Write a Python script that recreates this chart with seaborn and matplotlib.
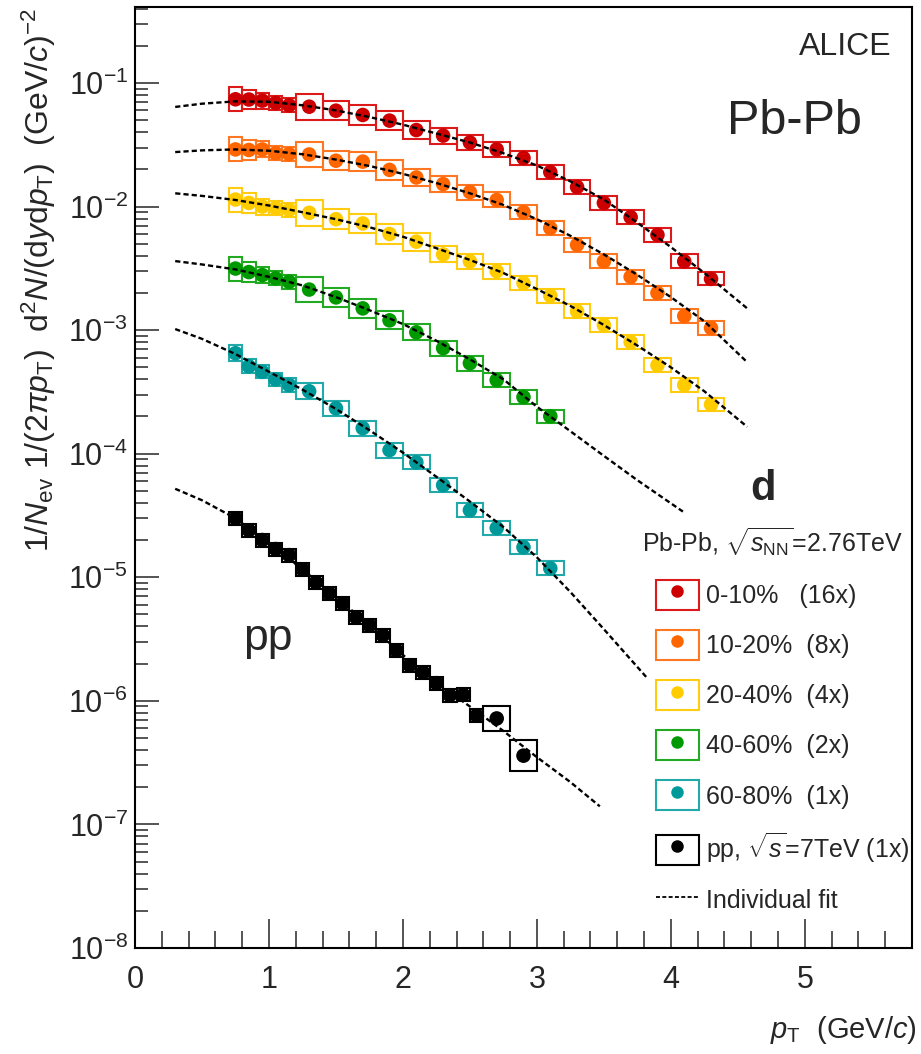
import numpy as np
import pandas as pd
import matplotlib
matplotlib.use('Agg')
import matplotlib.pyplot as plt
import seaborn as sns
from matplotlib.lines import Line2D
from matplotlib.patches import Rectangle
from matplotlib.legend_handler import HandlerTuple
from matplotlib.ticker import (MultipleLocator, FixedLocator, NullFormatter,
                               LogFormatterMathtext)

# ---------------- data ----------------
pt_pbpb = [0.75, 0.85, 0.95, 1.05, 1.15, 1.3, 1.5, 1.7, 1.9, 2.1, 2.3, 2.5,
           2.7, 2.9, 3.1, 3.3, 3.5, 3.7, 3.9, 4.1, 4.3]
bw_pbpb = [0.1, 0.1, 0.1, 0.1, 0.1] + [0.2] * 16

y_0_10 = [0.0738, 0.0735, 0.072, 0.069, 0.066, 0.0643, 0.0597, 0.0551, 0.0496,
          0.0416, 0.0375, 0.0330, 0.0290, 0.0247, 0.0190, 0.0144, 0.0107,
          0.0082, 0.0059, 0.0036, 0.0026]
sys_0_10 = [0.25, 0.20, 0.16, 0.14, 0.14, 0.27, 0.20, 0.20, 0.20, 0.18, 0.16,
            0.15, 0.15, 0.14, 0.14, 0.14, 0.14, 0.14, 0.14, 0.14, 0.13]

y_10_20 = [0.0290, 0.0287, 0.0290, 0.0270, 0.0266, 0.0264, 0.0235, 0.0231,
           0.0198, 0.0172, 0.0152, 0.0131, 0.0113, 0.0090, 0.0067, 0.0049,
           0.0036, 0.0027, 0.0020, 0.0013, 0.00104]
sys_10_20 = [0.25, 0.20, 0.16, 0.14, 0.14, 0.27, 0.20, 0.20, 0.20, 0.18, 0.16,
             0.15, 0.15, 0.14, 0.14, 0.14, 0.14, 0.14, 0.14, 0.14, 0.13]

y_20_40 = [0.0114, 0.0107, 0.0100, 0.0097, 0.0094, 0.0089, 0.0079, 0.0073,
           0.0060, 0.0052, 0.0041, 0.0036, 0.0030, 0.0024, 0.0019, 0.00142,
           0.0011, 0.0008, 0.00052, 0.00036, 0.00025]
sys_20_40 = [0.25, 0.20, 0.16, 0.14, 0.14, 0.27, 0.20, 0.20, 0.20, 0.18, 0.16,
             0.15, 0.15, 0.14, 0.14, 0.14, 0.14, 0.14, 0.14, 0.14, 0.13]

pt_40_60 = pt_pbpb[:15]
bw_40_60 = bw_pbpb[:15]
y_40_60 = [0.00315, 0.00295, 0.00279, 0.00262, 0.00246, 0.00213, 0.00184,
           0.00150, 0.00120, 0.00096, 0.000715, 0.00054, 0.000394, 0.000287,
           0.000201]
sys_40_60 = [0.25, 0.20, 0.16, 0.14, 0.14, 0.27, 0.20, 0.20, 0.18, 0.16, 0.15,
             0.15, 0.14, 0.14, 0.13]

pt_60_80 = pt_pbpb[:15]
bw_60_80 = bw_pbpb[:15]
y_60_80 = [0.00065, 0.00051, 0.00046, 0.00040, 0.00036, 0.00032, 0.000233,
           0.000161, 0.000107, 8.5e-5, 5.56e-5, 3.49e-5, 2.5e-5, 1.75e-5,
           1.18e-5]
sys_60_80 = [0.16, 0.14, 0.13, 0.13, 0.13, 0.16, 0.15, 0.15, 0.15, 0.14, 0.14,
             0.14, 0.14, 0.14, 0.14]

pt_pp = [0.75, 0.85, 0.95, 1.05, 1.15, 1.25, 1.35, 1.45, 1.55, 1.65, 1.75,
         1.85, 1.95, 2.05, 2.15, 2.25, 2.35, 2.45, 2.55, 2.7, 2.9]
bw_pp = [0.1] * 19 + [0.2, 0.2]
y_pp = [3.0e-5, 2.4e-5, 2.0e-5, 1.69e-5, 1.51e-5, 1.16e-5, 9.1e-6, 7.4e-6,
        6.15e-6, 4.74e-6, 4.08e-6, 3.39e-6, 2.56e-6, 1.94e-6, 1.70e-6,
        1.39e-6, 1.11e-6, 1.12e-6, 7.6e-7, 7.2e-7, 3.6e-7]
sys_pp = [0.13] * 19 + [0.26, 0.33]

# individual fits
fitpt_a = [0.3, 0.5, 0.75, 1.0, 1.25, 1.5, 1.75, 2.0, 2.25, 2.5, 2.75, 3.0,
           3.25, 3.5, 3.75, 4.0, 4.25, 4.57]
fit_0_10 = [0.064, 0.068, 0.071, 0.0705, 0.066, 0.060, 0.053, 0.046, 0.039,
            0.033, 0.027, 0.0215, 0.0160, 0.0114, 0.0074, 0.0047, 0.0029, 0.0015]
fit_10_20 = [0.0276, 0.0285, 0.0290, 0.0283, 0.0265, 0.0240, 0.0213, 0.0184,
             0.0155, 0.0128, 0.0103, 0.0079, 0.0058, 0.0041, 0.0028, 0.00185,
             0.00118, 0.00055]
fit_20_40 = [0.0128, 0.0122, 0.0113, 0.0102, 0.0090, 0.0079, 0.0068, 0.0057,
             0.0046, 0.0037, 0.0029, 0.00215, 0.00157, 0.0011, 0.00075, 0.0005,
             0.00032, 0.000165]
fitpt_40_60 = [0.3, 0.5, 0.75, 1.0, 1.25, 1.5, 1.75, 2.0, 2.25, 2.5, 2.75, 3.0,
               3.25, 3.5, 3.75, 4.09]
fit_40_60 = [0.00362, 0.0034, 0.0031, 0.0027, 0.0023, 0.00185, 0.00145,
             0.00112, 0.00082, 0.00058, 0.0004, 0.00024, 0.000152, 9.6e-5,
             6.1e-5, 3.4e-5]
fitpt_60_80 = [0.3, 0.5, 0.75, 1.0, 1.25, 1.5, 1.75, 2.0, 2.25, 2.5, 2.75, 3.0,
               3.25, 3.5, 3.83]
fit_60_80 = [0.00102, 0.00085, 0.00064, 0.00046, 0.00033, 0.00023, 0.000155,
             0.000102, 6.5e-5, 4.1e-5, 2.55e-5, 1.45e-5, 7.6e-6, 3.8e-6, 1.5e-6]
fitpt_pp = [0.3, 0.5, 0.75, 1.0, 1.25, 1.5, 1.75, 2.0, 2.25, 2.5, 2.75, 3.0,
            3.25, 3.47]
fit_pp = [5.2e-5, 4.2e-5, 3.0e-5, 1.88e-5, 1.16e-5, 6.9e-6, 4.1e-6, 2.35e-6,
          1.4e-6, 9.0e-7, 5.7e-7, 3.5e-7, 2.2e-7, 1.4e-7]

labels = ["0-10%   (16x)", "10-20%  (8x)", "20-40%  (4x)", "40-60%  (2x)",
          "60-80%  (1x)", r"pp, $\sqrt{s}$=7TeV (1x)"]
dot_colors = ["#CC0000", "#FF6600", "#FFCC00", "#009900", "#009999", "#000000"]
box_colors = ["#DD1A1A", "#FF7722", "#FFCC11", "#22AA22", "#22AAAA", "#000000"]

y_major = [1e-8, 1e-7, 1e-6, 1e-5, 1e-4, 1e-3, 1e-2, 1e-1]

series = [
    (pt_pbpb, bw_pbpb, y_0_10, sys_0_10, fitpt_a, fit_0_10),
    (pt_pbpb, bw_pbpb, y_10_20, sys_10_20, fitpt_a, fit_10_20),
    (pt_pbpb, bw_pbpb, y_20_40, sys_20_40, fitpt_a, fit_20_40),
    (pt_40_60, bw_40_60, y_40_60, sys_40_60, fitpt_40_60, fit_40_60),
    (pt_60_80, bw_60_80, y_60_80, sys_60_80, fitpt_60_80, fit_60_80),
    (pt_pp, bw_pp, y_pp, sys_pp, fitpt_pp, fit_pp),
]

# ---------------- style ----------------
sns.set_theme(style='white')
plt.rcParams['font.family'] = ['Liberation Sans', 'DejaVu Sans']
plt.rcParams['mathtext.fontset'] = 'custom'
plt.rcParams['mathtext.rm'] = 'Liberation Sans'
plt.rcParams['mathtext.it'] = 'Liberation Sans:italic'
plt.rcParams['mathtext.bf'] = 'Liberation Sans:bold'
plt.rcParams['mathtext.sf'] = 'Liberation Sans'

fig = plt.figure(figsize=(9.21, 10.54), dpi=100)
ax = fig.add_axes([0.1466, 0.1006, 0.8436, 0.8928])
ax.set_yscale('log')
ax.set_xlim(0, 5.8)
ax.set_ylim(1e-8, 0.4124)

fit_dash = (0, (2.2, 1.3))
for i, (pt, bw, yv, sy, fpt, fv) in enumerate(series):
    pt = np.asarray(pt); yv = np.asarray(yv); sy = np.asarray(sy)
    lo = yv / (1 + sy)
    hi = yv * (1 + sy)
    ax.bar(pt, hi - lo, bottom=lo, width=bw, fill=False,
           edgecolor=box_colors[i], linewidth=1.5, zorder=2)
    df = pd.DataFrame({'pt': pt, 'y': yv})
    sns.scatterplot(data=df, x='pt', y='y', color=dot_colors[i], s=110,
                    edgecolor='none', ax=ax, zorder=3, legend=False)
    dff = pd.DataFrame({'pt': fpt, 'y': fv})
    sns.lineplot(data=dff, x='pt', y='y', color='black', linewidth=1.7,
                 linestyle=fit_dash, sort=False, estimator=None, ax=ax,
                 zorder=4, legend=False)

# axes styling (ROOT-like)
for s in ax.spines.values():
    s.set_linewidth(1.5)
    s.set_color('black')
ax.xaxis.set_major_locator(MultipleLocator(1))
ax.xaxis.set_minor_locator(MultipleLocator(0.2))
y_minor = [m * d for d in y_major for m in range(2, 10) if m * d < 0.41]
ax.yaxis.set_major_locator(FixedLocator(y_major))
ax.yaxis.set_major_formatter(LogFormatterMathtext())
ax.yaxis.set_minor_locator(FixedLocator(y_minor))
ax.yaxis.set_minor_formatter(NullFormatter())
ax.tick_params(axis='x', which='major', direction='in', length=21, width=1.1,
               labelsize=22, pad=12, top=False, bottom=True)
ax.tick_params(axis='x', which='minor', direction='in', length=12, width=1.1,
               top=False, bottom=True)
ax.tick_params(axis='y', which='major', direction='in', length=17, width=1.1,
               labelsize=22, pad=5, left=True, right=False)
ax.tick_params(axis='y', which='minor', direction='in', length=9, width=1.1,
               left=True, right=False)

# axis titles
ax.set_xlabel(r"$p_{\rm T}$  (GeV/$c$)", fontsize=21)
ax.xaxis.label.set_ha('right')
ax.xaxis.label.set_va('baseline')
ax.xaxis.set_label_coords(1.0064, -0.0956)
ax.set_ylabel(r"1/$N_{\rm ev}$ 1/(2$\pi p_{\rm T}$)  d$^{2}N$/(d$y$d$p_{\rm T}$)  (GeV/$c$)$^{-2}$",
              fontsize=23)
ax.yaxis.label.set_rotation_mode('default')
ax.yaxis.label.set_ha('center')
ax.yaxis.label.set_va('top')
ax.yaxis.set_label_coords(-0.124, 0.9985)

# annotations
ax.text(0.9743, 0.949, "ALICE", transform=ax.transAxes, ha='right',
        va='baseline', fontsize=23)
ax.text(0.7619, 0.8651, "Pb-Pb", transform=ax.transAxes, ha='left',
        va='baseline', fontsize=35)
ax.text(0.7915, 0.4761, "d", transform=ax.transAxes, ha='left',
        va='baseline', fontsize=30, fontweight='bold')
ax.text(0.139, 0.3167, "pp", transform=ax.transAxes, ha='left',
        va='baseline', fontsize=32)
ax.text(0.6525, 0.4198, r"Pb-Pb, $\sqrt{s_{\rm NN}}$=2.76TeV",
        transform=ax.transAxes, ha='left', va='baseline', fontsize=18)

# legend
handles = []
for i in range(6):
    box = Rectangle((0, 0), 1, 1, fill=False, edgecolor=box_colors[i], lw=1.5)
    dot = Line2D([], [], marker='o', ls='', color=dot_colors[i], ms=9,
                 markeredgewidth=0)
    handles.append((box, dot))
handles.append(Line2D([], [], color='black', lw=1.3, ls=(0, (2.2, 1.3))))
leg_labels = labels + ["Individual fit"]
leg = ax.legend(handles, leg_labels, loc='upper left',
                bbox_to_anchor=(0.6705, 0.3915), frameon=False, fontsize=18,
                handlelength=1.72, handleheight=1.48, handletextpad=0.3,
                labelspacing=0.8, borderpad=0, borderaxespad=0,
                handler_map={tuple: HandlerTuple(ndivide=1, pad=0)})

fig.savefig('out.png', dpi=100)
